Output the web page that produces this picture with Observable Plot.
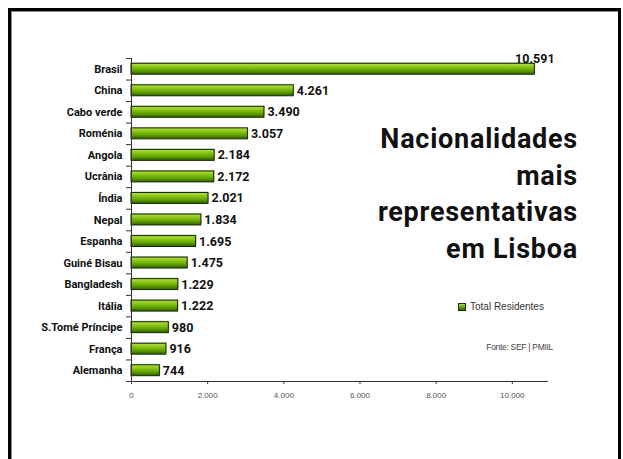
<!DOCTYPE html>
<html>
<head>
<meta charset="utf-8">
<script src="https://cdn.jsdelivr.net/npm/d3@7"></script>
<script src="https://cdn.jsdelivr.net/npm/@observablehq/plot@0.6"></script>
<style>
  html, body { margin: 0; padding: 0; background: #fff; }
  #wrap { position: relative; width: 623px; height: 459px; overflow: hidden; }
  #frame { position: absolute; left: 8px; top: 8px; width: 613px; height: 470px; border: 3px solid #000; border-bottom: none; box-sizing: border-box; box-shadow: inset 1px 1px 0 #888; }
  #chart { position: absolute; left: 0; top: 0; }
  #title { position: absolute; right: 45px; top: 121px; font-family: Roboto, sans-serif; font-weight: 700; font-size: 27px; line-height: 36.5px; text-align: right; color: #111; letter-spacing: 0.75px; }
  #legend { position: absolute; left: 458px; top: 301px; font-family: "Liberation Sans", Arial, sans-serif; font-size: 10px; color: #333; display: flex; align-items: center; }
  #legend .sw { width: 6px; height: 6px; border: 1px solid #1a3300; background: linear-gradient(#a8d838, #2f6b00); margin-right: 4px; }
  #source { position: absolute; right: 70px; top: 342px; font-family: "Liberation Sans Narrow", "Liberation Sans", Arial, sans-serif; font-size: 8.5px; color: #444; letter-spacing: -0.3px; }
</style>
</head>
<body>
<div id="wrap">
  <div id="frame"></div>
  <div id="chart"></div>
  <div id="title">Nacionalidades<br>mais<br>representativas<br>em Lisboa</div>
  <div id="legend"><span class="sw"></span>Total Residentes</div>
  <div id="source">Fonte: SEF | PMIIL</div>
</div>
<script>
const countries = ["Brasil","China","Cabo verde","Roménia","Angola","Ucrânia","Índia","Nepal","Espanha","Guiné Bisau","Bangladesh","Itália","S.Tomé Príncipe","França","Alemanha"];
const values = [10591, 4261, 3490, 3057, 2184, 2172, 2021, 1834, 1695, 1475, 1229, 1222, 980, 916, 744];
const xTicks = [0, 2000, 4000, 6000, 8000, 10000];

const data = countries.map((c, i) => ({country: c, value: values[i], i}));
const maxVal = d3.max(values);
const ptFormat = d3.formatLocale({decimal: ",", thousands: ".", grouping: [3], currency: ["", ""]}).format(",");

const plot = Plot.plot({
  width: 623,
  height: 459,
  marginLeft: 131,
  marginRight: 75,
  marginTop: 58,
  marginBottom: 78,
  style: {background: "transparent", overflow: "visible"},
  x: {type: "linear", domain: [0, 10950]},
  y: {type: "linear", domain: [0, countries.length], reverse: true},
  marks: [
    Plot.axisX({ticks: xTicks, tickFormat: ptFormat, tickSize: 3, tickPadding: 8, fontSize: 8, fontFamily: "Liberation Sans, Arial, sans-serif", fill: "#555", stroke: "#333", label: null}),
    Plot.axisY({ticks: d3.range(0, countries.length + 1), tickFormat: () => "", tickSize: 5, stroke: "#333", label: null}),
    Plot.rect(data, {x1: () => 0, x2: "value", y1: d => d.i, y2: d => d.i + 1, insetTop: 5.3, insetBottom: 5.3, fill: "#c8c8c8", dx: 1, dy: -1}),
    Plot.rect(data, {x1: () => 0, x2: "value", y1: d => d.i, y2: d => d.i + 1, insetTop: 5.3, insetBottom: 5.3, fill: "url(#barGrad)", stroke: "#142b00", strokeWidth: 1}),
    Plot.ruleX([0], {stroke: "#333", strokeWidth: 1}),
    Plot.ruleY([countries.length], {stroke: "#333", strokeWidth: 1}),
    Plot.text(data, {x: () => 0, y: d => d.i + 0.5, text: "country", textAnchor: "end", dx: -9, fontSize: 11, fontWeight: 700, fontFamily: "Roboto, sans-serif", fill: "#111", style: {letterSpacing: "0.2px"}}),
    Plot.text(data.filter(d => d.value !== maxVal), {x: "value", y: d => d.i + 0.5, text: d => ptFormat(d.value), textAnchor: "start", dx: 3, fontSize: 12.5, fontWeight: 700, fontFamily: "Roboto, sans-serif", fill: "#111"}),
    Plot.text(data.filter(d => d.value === maxVal), {x: "value", y: d => d.i + 0.5, text: d => ptFormat(d.value), textAnchor: "middle", dy: -10, fontSize: 12.5, fontWeight: 700, fontFamily: "Roboto, sans-serif", fill: "#111"})
  ]
});

const svgNS = "http://www.w3.org/2000/svg";
const defs = document.createElementNS(svgNS, "defs");
defs.innerHTML = '<linearGradient id="barGrad" x1="0" y1="0" x2="0" y2="1">' +
  '<stop offset="0" stop-color="#b4e04a"/>' +
  '<stop offset="0.35" stop-color="#88c414"/>' +
  '<stop offset="0.7" stop-color="#5b9a00"/>' +
  '<stop offset="1" stop-color="#2c5e00"/></linearGradient>';
plot.insertBefore(defs, plot.firstChild);
document.getElementById("chart").appendChild(plot);
</script>
</body>
</html>
